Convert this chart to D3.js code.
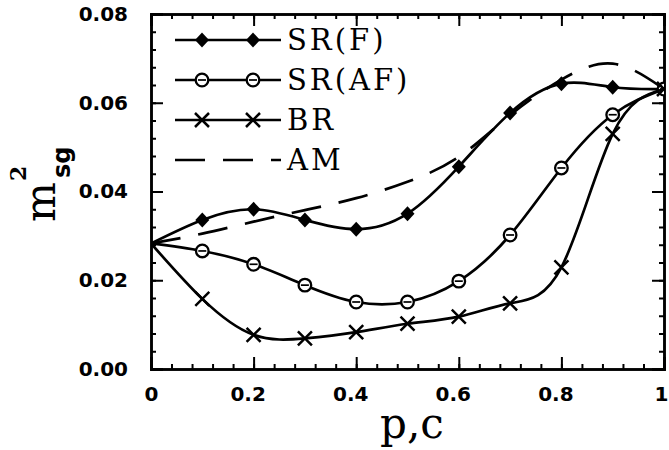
<!DOCTYPE html>
<html lang="en">
<head>
  <meta charset="UTF-8">
  <title>m_sg^2 vs p,c</title>
  <style>
    body { margin: 0; background: #fff; }
    svg { display: block; }
  </style>
</head>
<body>
  <svg id="chart" width="669" height="450"></svg>

  <script src="https://d3js.org/d3.v7.min.js"></script>
  <script>
    // values (x = p,c)
    const xs = [0, 0.1, 0.2, 0.3, 0.4, 0.5, 0.6, 0.7, 0.8, 0.9, 1.0];
    const srF  = [0.0283, 0.0336, 0.0360, 0.0336, 0.0315, 0.0350, 0.0456, 0.0577, 0.0643, 0.0635, 0.0631];
    const srAF = [0.0283, 0.0266, 0.0236, 0.0189, 0.0151, 0.0151, 0.0198, 0.0302, 0.0453, 0.0573, 0.0631];
    const br   = [0.0283, 0.0158, 0.0077, 0.0069, 0.0083, 0.0102, 0.0118, 0.0148, 0.0229, 0.0530, 0.0631];
    const am   = [0.0283, 0.0305, 0.0332, 0.0358, 0.0385, 0.0422, 0.0478, 0.0572, 0.0652, 0.0688, 0.0631];

    const xTicks = [0, 0.2, 0.4, 0.6, 0.8, 1];
    const xTickLabels = ["0", "0.2", "0.4", "0.6", "0.8", "1"];
    const yTicks = [0, 0.02, 0.04, 0.06, 0.08];
    const yTickLabels = ["0.00", "0.02", "0.04", "0.06", "0.08"];

    const legendNames = ["SR(F)", "SR(AF)", "BR", "AM"];
    const legendMarks = ["diamond", "circle", "cross", "none"];

    const margin = { left: 151, right: 664, top: 14, bottom: 369 };

    const svg = d3.select("#chart");

    const x = d3.scaleLinear().domain([0, 1]).range([margin.left, margin.right]);
    const y = d3.scaleLinear().domain([0, 0.08]).range([margin.bottom, margin.top]);

    const minorX = d3.range(0, 1.0001, 0.04);
    const minorY = d3.range(0, 0.08001, 0.004);

    // inward ticks on all four sides
    function styleAxis(g) {
      g.select(".domain").attr("stroke", "#000").attr("stroke-width", 2.5);
      g.selectAll(".tick line").attr("stroke", "#000").attr("stroke-width", 2);
      g.selectAll("text")
        .attr("font-family", "DejaVu Sans, sans-serif")
        .attr("font-weight", "bold")
        .attr("font-size", 20)
        .attr("fill", "#000");
    }

    // minor ticks
    svg.append("g").attr("transform", `translate(0,${margin.bottom})`)
      .call(d3.axisBottom(x).tickValues(minorX).tickSize(-5).tickFormat(""))
      .call(styleAxis);
    svg.append("g").attr("transform", `translate(0,${margin.top})`)
      .call(d3.axisTop(x).tickValues(minorX).tickSize(-5).tickFormat(""))
      .call(styleAxis);
    svg.append("g").attr("transform", `translate(${margin.left},0)`)
      .call(d3.axisLeft(y).tickValues(minorY).tickSize(-5).tickFormat(""))
      .call(styleAxis);
    svg.append("g").attr("transform", `translate(${margin.right},0)`)
      .call(d3.axisRight(y).tickValues(minorY).tickSize(-5).tickFormat(""))
      .call(styleAxis);

    // major ticks + labels
    svg.append("g").attr("transform", `translate(0,${margin.bottom})`)
      .call(d3.axisBottom(x).tickValues(xTicks).tickSize(-12).tickPadding(18)
        .tickFormat((d, i) => xTickLabels[i]))
      .call(styleAxis)
      .selectAll("text")
      .attr("dx", (d, i) => xTickLabels[i].length > 1 ? -6 : 0)
      .attr("text-anchor", (d, i) => i === xTicks.length - 1 ? "end" : "middle")
      .attr("x", (d, i) => i === xTicks.length - 1 ? 668 - margin.right : 0);
    svg.append("g").attr("transform", `translate(0,${margin.top})`)
      .call(d3.axisTop(x).tickValues(xTicks).tickSize(-12).tickFormat(""))
      .call(styleAxis);
    svg.append("g").attr("transform", `translate(${margin.left},0)`)
      .call(d3.axisLeft(y).tickValues(yTicks).tickSize(-12).tickPadding(23)
        .tickFormat((d, i) => yTickLabels[i]))
      .call(styleAxis);
    svg.append("g").attr("transform", `translate(${margin.right},0)`)
      .call(d3.axisRight(y).tickValues(yTicks).tickSize(-12).tickFormat(""))
      .call(styleAxis);

    // clip to the frame
    svg.append("clipPath").attr("id", "plotClip")
      .append("rect")
      .attr("x", margin.left).attr("y", margin.top)
      .attr("width", margin.right - margin.left).attr("height", margin.bottom - margin.top);

    const plot = svg.append("g").attr("clip-path", "url(#plotClip)");

    const line = d3.line()
      .x(d => x(d[0]))
      .y(d => y(d[1]))
      .curve(d3.curveNatural);

    const seriesList = [
      { vals: srF, mark: "diamond", dash: null },
      { vals: srAF, mark: "circle", dash: null },
      { vals: br, mark: "cross", dash: null },
      { vals: am, mark: "none", dash: "30,18" }
    ];

    function drawMark(g, kind, cx, cy) {
      if (kind === "diamond") {
        g.append("path")
          .attr("d", `M${cx},${cy - 7.5}L${cx + 7},${cy}L${cx},${cy + 7.5}L${cx - 7},${cy}Z`)
          .attr("fill", "#000");
      } else if (kind === "circle") {
        g.append("circle")
          .attr("cx", cx).attr("cy", cy).attr("r", 6.3)
          .attr("fill", "#fff").attr("stroke", "#000").attr("stroke-width", 2.3);
        g.append("line")
          .attr("x1", cx - 4).attr("x2", cx + 4).attr("y1", cy).attr("y2", cy)
          .attr("stroke", "#000").attr("stroke-width", 1.7);
      } else if (kind === "cross") {
        g.append("path")
          .attr("d", `M${cx - 7},${cy - 7}L${cx + 7},${cy + 7}M${cx - 7},${cy + 7}L${cx + 7},${cy - 7}`)
          .attr("stroke", "#000").attr("stroke-width", 2.5).attr("fill", "none");
      }
    }

    seriesList.forEach(s => {
      const pts = xs.map((v, i) => [v, s.vals[i]]);
      plot.append("path")
        .attr("d", line(pts))
        .attr("fill", "none")
        .attr("stroke", "#000")
        .attr("stroke-width", 2.7)
        .attr("stroke-dasharray", s.dash);
      pts.forEach((p, i) => {
        if (i === 0) return;
        drawMark(plot, s.mark, x(p[0]), y(p[1]));
      });
    });

    // legend
    const legendY = [40, 80, 120, 160];
    legendNames.forEach((name, i) => {
      const ly = legendY[i];
      const g = svg.append("g");
      g.append("line")
        .attr("x1", 175).attr("x2", 281).attr("y1", ly).attr("y2", ly)
        .attr("stroke", "#000").attr("stroke-width", 2.7)
        .attr("stroke-dasharray", legendMarks[i] === "none" ? "30,18" : null);
      [202, 253].forEach(mx => drawMark(g, legendMarks[i], mx, ly));
      g.append("text")
        .attr("x", 287).attr("y", ly + 10)
        .attr("font-family", "DejaVu Serif, serif")
        .attr("font-size", 29)
        .attr("letter-spacing", 3)
        .text(name);
    });

    // axis titles
    svg.append("text")
      .attr("x", 412).attr("y", 438)
      .attr("text-anchor", "middle")
      .attr("font-family", "DejaVu Serif, serif")
      .attr("font-size", 42)
      .text("p,c");

    svg.append("text")
      .attr("transform", "translate(55,222) rotate(-90)")
      .attr("font-family", "DejaVu Serif, serif")
      .attr("font-size", 42)
      .text("m");
    svg.append("text")
      .attr("transform", "translate(26,181) rotate(-90)")
      .attr("font-family", "DejaVu Serif, serif")
      .attr("font-weight", "bold")
      .attr("font-size", 22)
      .text("2");
    svg.append("text")
      .attr("transform", "translate(70,178) rotate(-90)")
      .attr("font-family", "DejaVu Sans, sans-serif")
      .attr("font-weight", "bold")
      .attr("font-size", 24)
      .text("sg");
  </script>
</body>
</html>
